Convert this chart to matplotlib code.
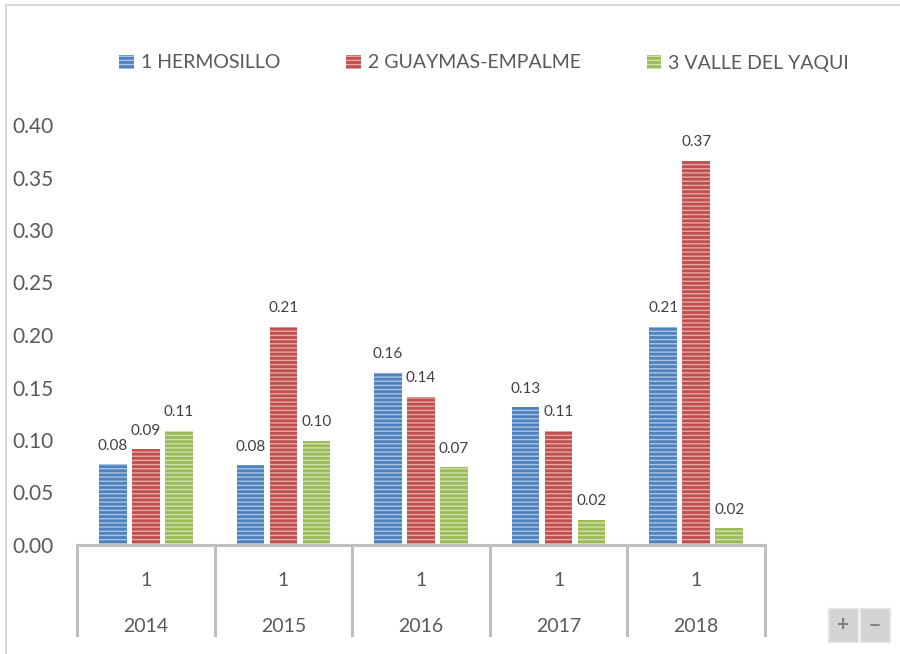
import matplotlib.pyplot as plt
from matplotlib.patches import Patch, Rectangle
from matplotlib.lines import Line2D
import numpy as np

plt.rcParams['font.family'] = ['Lato', 'DejaVu Sans']
plt.rcParams['hatch.linewidth'] = 1.0

anios = ['2014', '2015', '2016', '2017', '2018']
sub = ['1', '1', '1', '1', '1']
series = ['1 HERMOSILLO', '2 GUAYMAS-EMPALME', '3 VALLE DEL YAQUI']
hermosillo = [0.077, 0.076, 0.164, 0.131, 0.208]
guaymas = [0.091, 0.208, 0.141, 0.109, 0.366]
yaqui = [0.109, 0.099, 0.074, 0.024, 0.016]

colores = ['#4F81BD', '#C0504D', '#9BBB59']
claros = ['#A9C4E4', '#E4A9A8', '#CFE0AE']
gris = '#595959'

fig = plt.figure(figsize=(9, 6.54), dpi=100)
ax = fig.add_axes([77/900, 1-545/654, (765-77)/900, 420/654])

x = np.arange(len(anios))
ancho = 0.2
paso = 0.24
for i, vals in enumerate([hermosillo, guaymas, yaqui]):
    pos = x + (i-1)*paso
    ax.bar(pos, vals, ancho, color=colores[i], edgecolor=claros[i],
           linewidth=0, hatch='----')
    for p, v in zip(pos, vals):
        ax.text(p, v + 0.011, '%.2f' % v, ha='center', va='bottom',
                fontsize=11, color='#404040', clip_on=False)

ax.set_xlim(-0.5, 4.5)
ax.set_ylim(0, 0.40)
ax.set_yticks(np.arange(0, 0.41, 0.05))
ax.set_yticklabels(['%.2f' % t for t in np.arange(0, 0.41, 0.05)])
ax.tick_params(axis='y', length=0, pad=17, labelsize=15, labelcolor=gris)
ax.set_xticks([])
for s in ['top', 'right', 'left']:
    ax.spines[s].set_visible(False)
ax.spines['bottom'].set_color('#BFBFBF')
ax.spines['bottom'].set_linewidth(2.2)

# eje de categorias en dos niveles
tr = ax.get_xaxis_transform()
for b in np.arange(-0.5, 5, 1):
    ax.add_line(Line2D([b, b], [0, -90/420], transform=tr, color='#BFBFBF',
                       linewidth=2.2, clip_on=False))
for xi, s1, an in zip(x, sub, anios):
    ax.text(xi, -35/420, s1, transform=tr, ha='center', va='center',
            fontsize=14, color=gris)
    ax.text(xi, -82/420, an, transform=tr, ha='center', va='center',
            fontsize=14, color=gris)

# leyenda
handles = [Patch(facecolor=colores[i], edgecolor=claros[i], linewidth=0,
                 hatch='----') for i in range(3)]
fig.legend(handles, series, loc='center', bbox_to_anchor=(484/900, 1-63/654),
           ncol=3, frameon=False, fontsize=14, handlelength=0.75,
           handleheight=0.75, handletextpad=0.35, columnspacing=3.4,
           labelcolor=gris)

# marco del grafico
fig.add_artist(Line2D([6/900, 6/900], [0, 1-5/654], color='#D9D9D9', linewidth=1.5))
fig.add_artist(Line2D([6/900, 1], [1-5/654, 1-5/654], color='#D9D9D9', linewidth=1.5))

# botones + -
for bx, simb in [(828, '+'), (860, '−')]:
    fig.add_artist(Rectangle((bx/900, 1-642/654), 30/900, 34/654,
                             facecolor='#D4D4D4', edgecolor='#E8E8E8'))
    fig.text((bx+15)/900, 1-625/654, simb, ha='center', va='center',
             fontsize=15, color='#7F7F7F', fontweight='bold')

fig.savefig('out.png', dpi=100)
